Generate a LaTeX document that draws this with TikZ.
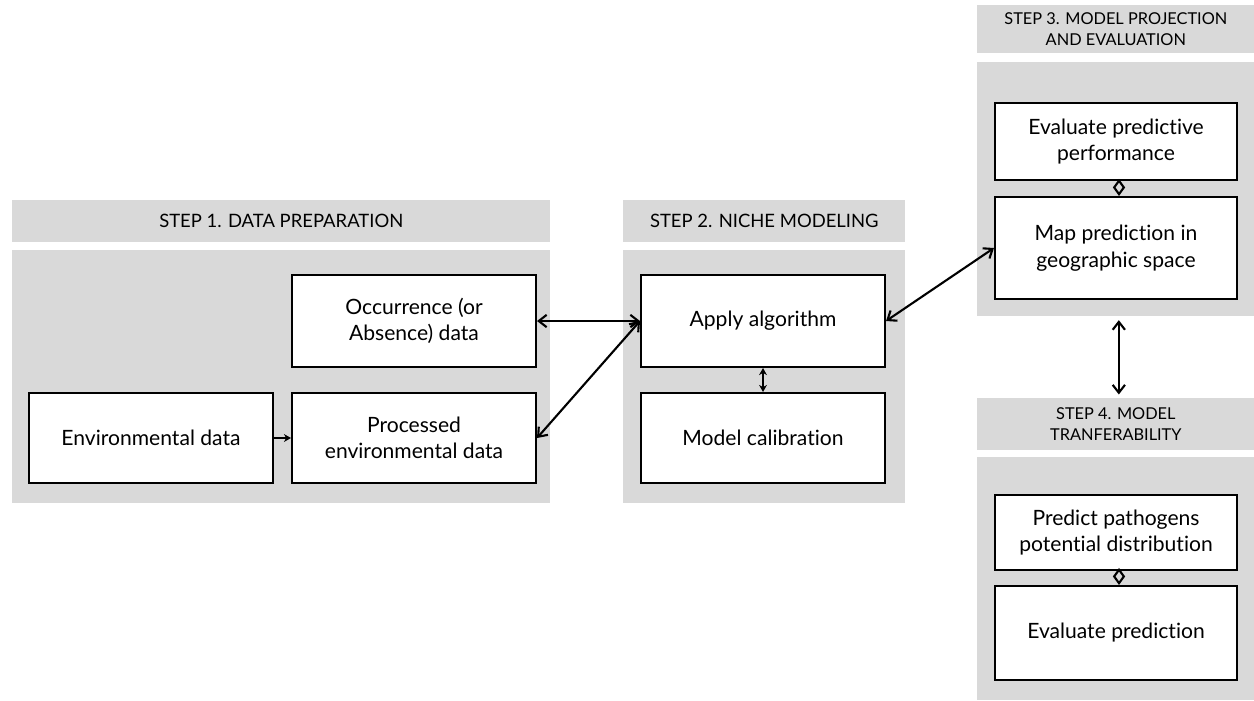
\documentclass[tikz,border=0pt]{standalone}
\usepackage{fontspec}
\setmainfont{Lato}[Ligatures={NoCommon}]
\usetikzlibrary{arrows.meta}

\begin{document}
\begin{tikzpicture}
[x=0.02cm, y=-0.02cm, font=\fontsize{12}{15}\selectfont]
\tikzstyle{panel}=[fill=black!15, inner sep=0mm, anchor=north west]
\tikzstyle{head}=[panel, align=center, font=\fontsize{10.5}{13}\selectfont]
\tikzstyle{smallhead}=[panel, align=center, font=\fontsize{9.3}{12}\selectfont]
\tikzstyle{box}=[draw, line width=1.2pt, fill=white, align=center, minimum width=4.88cm, minimum height=1.84cm]
\tikzstyle{link}=[line width=1.2pt, {Straight Barb[length=4.5pt,width=7pt]}-{Straight Barb[length=4.5pt,width=7pt]}]
\tikzstyle{tiny}=[line width=1.2pt, -{Stealth[length=4pt,width=4.5pt]}]
\tikzstyle{tinyboth}=[line width=1.2pt, {Stealth[length=4pt,width=4.5pt]}-{Stealth[length=4pt,width=4.5pt]}]
\tikzstyle{pair}=[line width=1.2pt, -{Diamond[open,length=0.34cm,width=7pt]}]
\useasboundingbox (0,0) rectangle (1254,700);

% step panels and their headers
\node[head]      (H1) at (12,200)  [minimum width=10.76cm, minimum height=0.84cm] {STEP 1. DATA PREPARATION};
\node[panel]     (P1) at (12,250)  [minimum width=10.76cm, minimum height=5.06cm] {};
\node[head]      (H2) at (623,200) [minimum width=5.64cm, minimum height=0.84cm] {STEP 2. NICHE MODELING};
\node[panel]     (P2) at (623,250) [minimum width=5.64cm, minimum height=5.06cm] {};
\node[smallhead] (H3) at (977,5)   [minimum width=5.54cm, minimum height=0.96cm] {STEP 3. MODEL PROJECTION\\AND EVALUATION};
\node[panel]     (P3) at (977,62)  [minimum width=5.54cm, minimum height=5.08cm] {};
\node[smallhead] (H4) at (977,398) [minimum width=5.54cm, minimum height=1.04cm] {STEP 4. MODEL\\TRANFERABILITY};
\node[panel]     (P4) at (977,457) [minimum width=5.54cm, minimum height=4.86cm] {};

% boxes
\node[box] (occ)   at (414,321) {Occurrence (or\\Absence) data};
\node[box] (env)   at (151,438) [minimum height=1.8cm] {Environmental data};
\node[box] (proc)  at (414,438) [minimum height=1.8cm] {Processed\\environmental data};
\node[box] (apply) at (763,321) {Apply algorithm};
\node[box] (calib) at (763,438) [minimum height=1.8cm] {Model calibration};
\node[box] (perf)  at (1116,141.5) [minimum width=4.84cm, minimum height=1.54cm] {Evaluate predictive\\performance};
\node[box] (map)   at (1116,248)   [minimum width=4.84cm, minimum height=2.04cm] {Map prediction in\\geographic space};
\node[box] (pred)  at (1116,532.5) [minimum width=4.84cm, minimum height=1.5cm] {Predict pathogens\\potential distribution};
\node[box] (evpr)  at (1116,633)   [minimum width=4.84cm, minimum height=1.88cm] {Evaluate prediction};

% connectors
\draw[tiny] (env)--(proc);
\draw[link] (occ)--(apply);
\draw[link] (proc.east)--(apply.west);
\draw[tinyboth] (apply)--(calib);
\draw[link] (apply.east)--(map.west);
\draw[pair] ([xshift=0.06cm]perf.south)--([xshift=0.06cm]map.north);
\draw[link, shorten <=2pt, shorten >=2pt] ([xshift=0.06cm]P3.south)--([xshift=0.06cm]H4.north);
\draw[pair] ([xshift=0.06cm]pred.south)--([xshift=0.06cm]evpr.north);

\end{tikzpicture}
\end{document}
